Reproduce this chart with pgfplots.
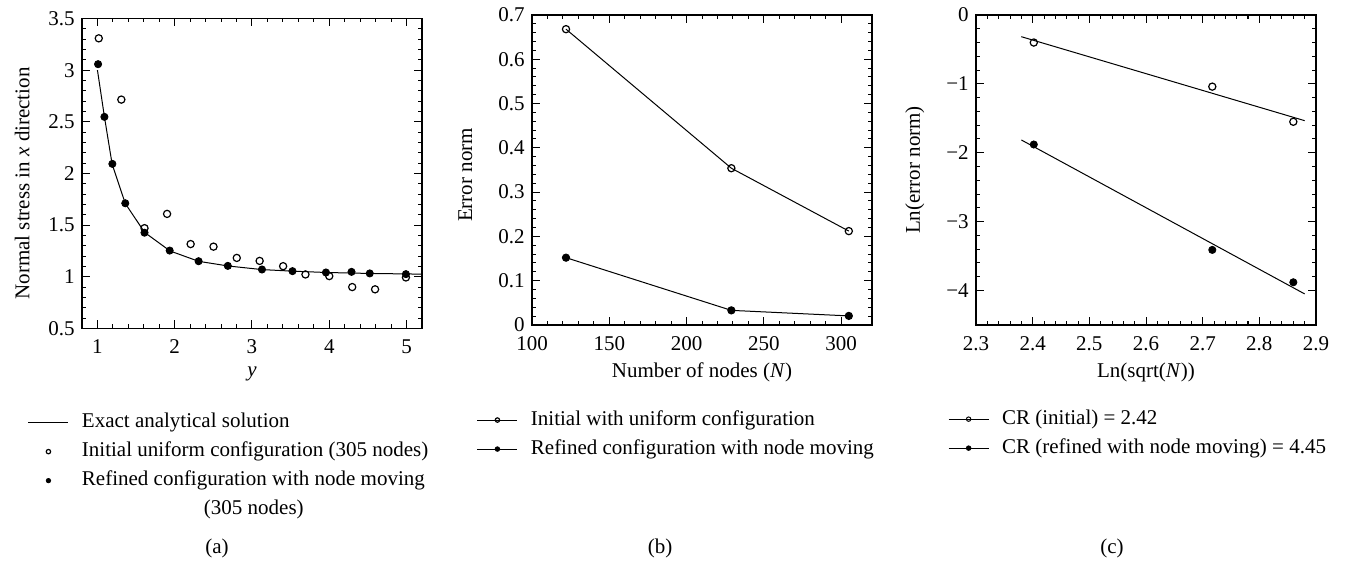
\documentclass[border=0pt]{standalone}
\usepackage{fontspec}
\setmainfont{Liberation Serif}
\usepackage{pgfplots}
\pgfplotsset{compat=1.18}
\begin{document}
\fontsize{10.5}{12.6}\selectfont
\begin{tikzpicture}
\path (0pt,0pt) rectangle (673pt,-282.5pt);
\pgfplotsset{
  every axis/.append style={
    scale only axis, width=170pt, height=155pt, anchor=north west,
    /pgf/number format/assume math mode=true,
    axis line style={line width=0.7pt},
    major tick length=4pt, minor tick length=2pt,
    tick style={black, line width=0.5pt},
    xticklabel style={yshift=-2pt},
    xlabel style={yshift=1pt},
    legend style={draw=none, fill=none, inner sep=0pt, outer sep=0pt, anchor=north west,
      row sep=2.5pt, nodes={inner sep=1pt, text height=7.5pt, text depth=2.5pt},
      /tikz/every odd column/.append style={column sep=5.5pt}},
    legend cell align=left,
    legend image code/.code={\draw[mark repeat=2,mark phase=2,#1] plot coordinates {(0pt,0pt) (10pt,0pt) (20pt,0pt)};},
    legend image post style={mark size=1.1pt},
  }
}
% ---------------- (a)
\begin{axis}[at={(41pt,-9.25pt)},
  xmin=0.8, xmax=5.2, ymin=0.5, ymax=3.5,
  xtick={1,2,3,4,5}, ytick={0.5,1,1.5,2,2.5,3,3.5},
  minor x tick num=4, minor y tick num=4,
  xlabel={\textit{y}},
  ylabel={Normal stress in \textit{x} direction},
  ylabel style={at={(axis description cs:-0.176,0.468)}, anchor=center},
  legend style={at={(-0.159,-0.265)}}]
\addplot[black, line width=0.5pt] coordinates {
(1.0,3.0) (1.09,2.55) (1.19,2.09) (1.36,1.71) (1.61,1.43) (1.94,1.25) (2.31,1.15)
(2.69,1.105) (3.13,1.07) (3.52,1.055) (3.96,1.042) (4.5,1.033) (5.2,1.026)};
\addlegendentry{Exact analytical solution}
\addplot[only marks, mark=o, mark size=1.8pt, black, mark options={fill=white, line width=0.6pt}] coordinates {
(1.017,3.308) (1.309,2.715) (1.609,1.471) (1.901,1.609) (2.206,1.317) (2.502,1.292)
(2.803,1.183) (3.099,1.154) (3.403,1.103) (3.692,1.023) (4.0,1.007) (4.297,0.901)
(4.593,0.879) (4.992,0.994)};
\addlegendentry{Initial uniform configuration (305 nodes)}
\addplot[only marks, mark=*, mark size=1.8pt, black] coordinates {
(1.008,3.058) (1.09,2.548) (1.193,2.093) (1.36,1.712) (1.609,1.427) (1.935,1.254)
(2.309,1.151) (2.687,1.106) (3.129,1.071) (3.524,1.055) (3.957,1.042) (4.288,1.048)
(4.524,1.033) (4.992,1.026)};
\addlegendentry{Refined configuration with node moving}
\addlegendimage{empty legend}
\addlegendentry{\hspace*{61pt}(305 nodes)}
\end{axis}
% ---------------- (b)
\begin{axis}[at={(266pt,-7.5pt)},
  xmin=100, xmax=320, ymin=0, ymax=0.7,
  xtick={100,150,200,250,300}, ytick={0,0.1,0.2,0.3,0.4,0.5,0.6,0.7},
  minor x tick num=4, minor y tick num=4,
  xlabel={Number of nodes (\textit{N})},
  ylabel={Error norm},
  ylabel style={at={(axis description cs:-0.196,0.484)}, anchor=center},
  legend style={at={(-0.162,-0.268)}}]
\addplot[black, line width=0.5pt, mark=o, mark size=1.8pt, mark options={fill=white, line width=0.6pt}] coordinates {
(122,0.668) (229,0.354) (305,0.212)};
\addlegendentry{Initial with uniform configuration}
\addplot[black, line width=0.5pt, mark=*, mark size=1.8pt] coordinates {
(122,0.152) (229,0.033) (305,0.0205)};
\addlegendentry{Refined configuration with node moving}
\end{axis}
% ---------------- (c)
\begin{axis}[at={(488pt,-7.5pt)},
  xmin=2.3, xmax=2.9, ymin=-4.5, ymax=0,
  xtick={2.3,2.4,2.5,2.6,2.7,2.8,2.9},
  ytick={-4,-3,-2,-1,0}, yticklabels={−4,−3,−2,−1,0},
  minor x tick num=4, minor y tick num=4,
  xlabel={Ln(sqrt(\textit{N}))},
  ylabel={Ln(error norm)},
  ylabel style={at={(axis description cs:-0.18,0.5)}, anchor=center},
  legend style={at={(-0.082,-0.265)}}]
\addplot[only marks, mark=o, mark size=1.8pt, black, mark options={fill=white, line width=0.6pt}, forget plot] coordinates {
(2.402,-0.40) (2.717,-1.04) (2.860,-1.55)};
\addplot[only marks, mark=*, mark size=1.8pt, black, forget plot] coordinates {
(2.402,-1.88) (2.717,-3.41) (2.860,-3.88)};
\addplot[black, line width=0.5pt, forget plot] coordinates {(2.38,-0.315) (2.88,-1.534)};
\addplot[black, line width=0.5pt, forget plot] coordinates {(2.38,-1.814) (2.88,-4.049)};
\addlegendimage{black, line width=0.5pt, mark=o, mark options={fill=white}}
\addlegendentry{CR (initial) = 2.42}
\addlegendimage{black, line width=0.5pt, mark=*}
\addlegendentry{CR (refined with node moving) = 4.45}
\end{axis}
\node at (108.5pt,-274pt) {(a)};
\node at (330pt,-274pt) {(b)};
\node at (556pt,-274pt) {(c)};
\end{tikzpicture}
\end{document}
